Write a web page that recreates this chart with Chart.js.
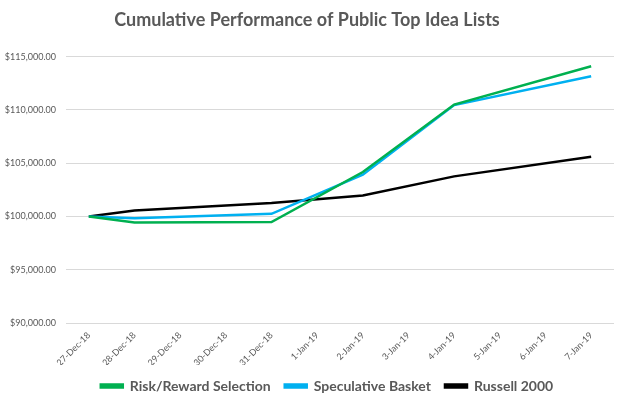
<!DOCTYPE html>
<html>
<head>
<meta charset="utf-8">
<script src="https://cdn.jsdelivr.net/npm/chart.js@4/dist/chart.umd.min.js"></script>
<style>
html,body{margin:0;padding:0;background:#fff;}
#wrap{width:640px;height:398px;position:relative;}
</style>
</head>
<body>
<div id="wrap"><canvas id="c" width="640" height="398"></canvas></div>
<script>
const categories = ["27-Dec-18","28-Dec-18","29-Dec-18","30-Dec-18","31-Dec-18","1-Jan-19","2-Jan-19","3-Jan-19","4-Jan-19","5-Jan-19","6-Jan-19","7-Jan-19"];
const riskReward = [100000, 99440, null, null, 99470, null, 104170, null, 110500, null, null, 114100];
const speculative = [100000, 99840, null, null, 100250, null, 103920, null, 110450, null, null, 113160];
const russell = [100000, 100560, null, null, 101250, null, 101970, null, 103760, null, null, 105610];
const seriesNames = ["Risk/Reward Selection", "Speculative Basket", "Russell 2000"];
const yTicks = [90000, 95000, 100000, 105000, 110000, 115000];

const fmt = v => "$" + v.toLocaleString("en-US", {minimumFractionDigits: 2, maximumFractionDigits: 2});

const legendShift = {
  id: "legendShift",
  afterLayout(chart) {
    if (chart.legend) { chart.legend.left += 20; chart.legend.right += 20; }
  }
};

new Chart(document.getElementById("c"), {
  type: "line",
  data: {
    labels: categories,
    datasets: [
      {label: seriesNames[0], data: riskReward, borderColor: "#00B050", backgroundColor: "#00B050"},
      {label: seriesNames[1], data: speculative, borderColor: "#00B0F0", backgroundColor: "#00B0F0"},
      {label: seriesNames[2], data: russell, borderColor: "#000000", backgroundColor: "#000000"}
    ].map(d => Object.assign(d, {borderWidth: 2.5, pointRadius: 0, spanGaps: true, tension: 0, fill: false}))
  },
  plugins: [legendShift],
  options: {
    responsive: false,
    animation: false,
    layout: {padding: {left: 0, right: 26, top: 0, bottom: -5}},
    plugins: {
      title: {
        display: true,
        text: "Cumulative Performance of Public Top Idea Lists",
        color: "#595959",
        font: {family: "Lato", size: 18, weight: "bold"},
        padding: {top: 9, bottom: 26}
      },
      legend: {
        position: "bottom",
        labels: {
          color: "#595959",
          font: {family: "Lato", size: 14, weight: "bold"},
          boxWidth: 22,
          boxHeight: 3,
          padding: 14
        }
      },
      tooltip: {enabled: false}
    },
    scales: {
      x: {
        offset: true,
        grid: {display: false, drawTicks: false},
        border: {display: false},
        ticks: {
          color: "#595959",
          font: {family: "Lato", size: 9},
          maxRotation: 45,
          minRotation: 45,
          autoSkip: false,
          padding: 7
        },
        afterFit: s => { s.height = 42; }
      },
      y: {
        min: yTicks[0],
        max: yTicks[yTicks.length - 1],
        afterBuildTicks: s => { s.ticks = yTicks.map(v => ({value: v})); },
        grid: {color: "#D9D9D9", lineWidth: 1, drawTicks: false},
        border: {display: false},
        ticks: {
          color: "#595959",
          font: {family: "Lato", size: 9},
          padding: 10,
          callback: v => fmt(v)
        },
        afterFit: s => { s.width = 66; }
      }
    }
  }
});
</script>
</body>
</html>
